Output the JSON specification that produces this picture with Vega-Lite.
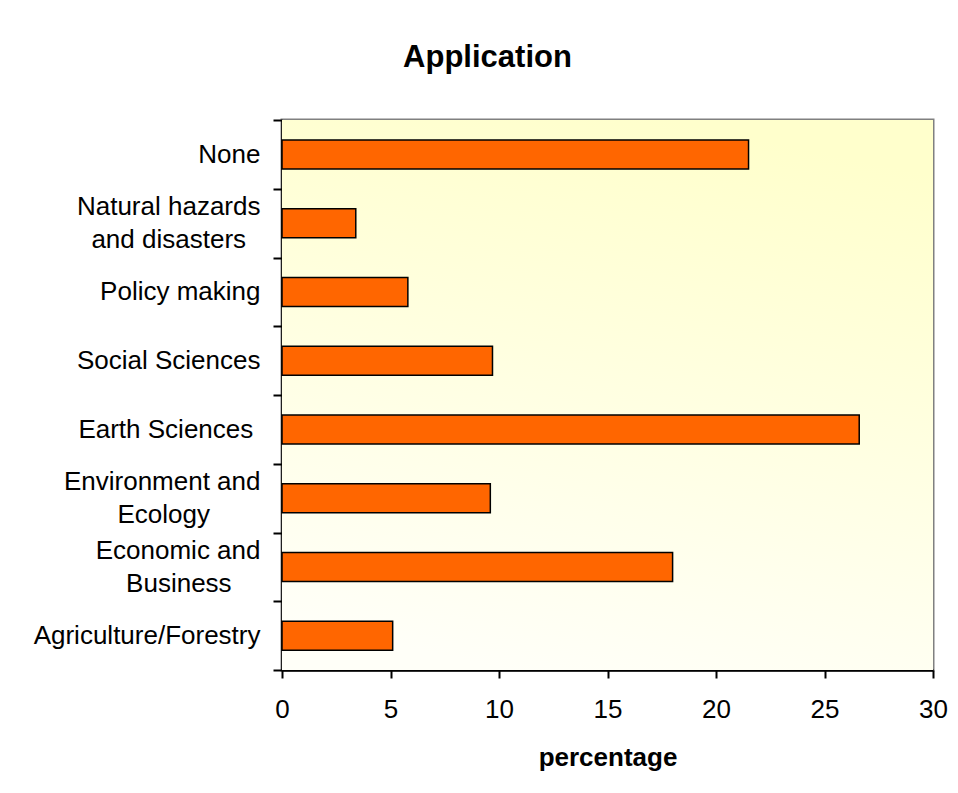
{
  "$schema": "https://vega.github.io/schema/vega-lite/v6.json",
  "autosize": "none",
  "width": 651,
  "height": 550,
  "padding": {"left": 282, "top": 120, "right": 25, "bottom": 123},
  "background": "white",
  "title": {
    "text": "Application",
    "font": "Liberation Sans",
    "fontSize": 31,
    "fontWeight": "bold",
    "color": "black",
    "anchor": "middle",
    "frame": "group",
    "dx": -120,
    "baseline": "alphabetic",
    "offset": 9
  },
  "datasets": {
    "bg": [{"id": 1}],
    "apps": [
      {"category": "None", "percentage": 21.5},
      {"category": "Natural hazards|and disasters\u00a0\u00a0\u200b", "percentage": 3.4},
      {"category": "Policy making", "percentage": 5.8},
      {"category": "Social Sciences", "percentage": 9.7},
      {"category": "Earth Sciences\u00a0\u200b", "percentage": 26.6},
      {"category": "Environment and|Ecology\u00a0\u00a0\u00a0\u00a0\u00a0\u00a0\u00a0\u200b", "percentage": 9.6},
      {"category": "Economic and|Business\u00a0\u00a0\u00a0\u00a0\u200b", "percentage": 18.0},
      {"category": "Agriculture/Forestry", "percentage": 5.1}
    ]
  },
  "layer": [
    {
      "data": {"name": "bg"},
      "mark": {
        "type": "rect",
        "color": {
          "gradient": "linear",
          "x1": 0.6, "y1": 0, "x2": 0.35, "y2": 1,
          "stops": [
            {"offset": 0, "color": "#ffffcc"},
            {"offset": 1, "color": "#fffff8"}
          ]
        }
      },
      "encoding": {
        "x": {"datum": 0, "type": "quantitative"},
        "x2": {"datum": 30}
      }
    },
    {
      "data": {"name": "apps"},
      "mark": {"type": "bar", "fill": "#ff6600", "stroke": "black", "strokeWidth": 1.5, "size": 29},
      "encoding": {
        "y": {
          "field": "category",
          "type": "nominal",
          "sort": null,
          "scale": {"paddingInner": 0, "paddingOuter": 0},
          "axis": {
            "title": null,
            "labelExpr": "indexof(datum.label, '|') >= 0 ? [split(datum.label, '|')[0], '\u200b', split(datum.label, '|')[1]] : ['\u200b', datum.label]",
            "labelFont": "Liberation Sans",
            "labelFontSize": 26,
            "labelColor": "black",
            "labelLineHeight": 16.5,
            "labelOffset": -16.5,
            "labelAlign": "right",
            "labelPadding": 13,
            "labelLimit": 400,
            "tickBand": "extent",
            "tickSize": 9,
            "tickWidth": 2,
            "tickColor": "black",
            "domainColor": "black",
            "domainWidth": 2.5
          }
        },
        "x": {
          "field": "percentage",
          "type": "quantitative",
          "scale": {"domain": [0, 30], "nice": false},
          "axis": {
            "title": "percentage",
            "titleFont": "Liberation Sans",
            "titleFontSize": 26,
            "titleFontWeight": "bold",
            "titleColor": "black",
            "titlePadding": 22,
            "values": [0, 5, 10, 15, 20, 25, 30],
            "grid": false,
            "labelFont": "Liberation Sans",
            "labelFontSize": 26,
            "labelColor": "black",
            "labelPadding": 18,
            "labelFlush": false,
            "tickSize": 8,
            "tickWidth": 2,
            "tickColor": "black",
            "domainColor": "black",
            "domainWidth": 2.5
          }
        }
      }
    }
  ],
  "config": {
    "view": {"stroke": "#808080", "strokeWidth": 3}
  }
}
